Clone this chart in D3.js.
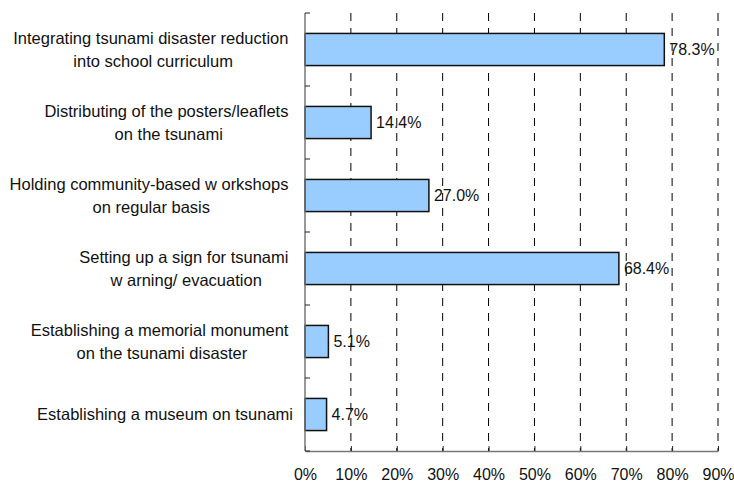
<!DOCTYPE html>
<html>
<head>
<meta charset="utf-8">
<script src="https://cdn.jsdelivr.net/npm/d3@7"></script>
<style>
  html, body { margin: 0; padding: 0; background: #fff; }
  text { font-family: "Liberation Sans", Arial, sans-serif; fill: #111; }
</style>
</head>
<body>
<svg id="chart" width="734" height="484"></svg>
<script>
// ---- data ----
const categoryLines = [
  ["Integrating tsunami disaster reduction", "into school curriculum"],
  ["Distributing of the posters/leaflets", "on the tsunami"],
  ["Holding community-based w orkshops", "on regular basis"],
  ["Setting up a sign for tsunami", "w arning/ evacuation"],
  ["Establishing a memorial monument", "on the tsunami disaster"],
  ["Establishing a museum on tsunami"]
];
const categories = categoryLines.map(l => l.join(" "));
const values = [78.3, 14.4, 27.0, 68.4, 5.1, 4.7];
const xTicks = [0, 10, 20, 30, 40, 50, 60, 70, 80, 90];

// ---- layout ----
const svg = d3.select("#chart");
const plotLeft = 305, plotRight = 718, plotTop = 13, plotBottom = 451;

const x = d3.scaleLinear().domain([0, 90]).range([plotLeft, plotRight]);
const y = d3.scaleBand().domain(categories).range([plotTop, plotBottom])
  .paddingInner(0.56).paddingOuter(0.28);

// gridlines
svg.append("g").selectAll("line").data(xTicks.filter(t => t > 0)).join("line")
  .attr("x1", d => x(d)).attr("x2", d => x(d))
  .attr("y1", plotTop).attr("y2", plotBottom)
  .attr("stroke", "#000").attr("stroke-width", 1)
  .attr("stroke-dasharray", "8,7");

// bars
svg.append("g").selectAll("rect").data(values).join("rect")
  .attr("x", x(0))
  .attr("y", (d, i) => y(categories[i]))
  .attr("width", d => x(d) - x(0))
  .attr("height", y.bandwidth())
  .attr("fill", "#99CCFF")
  .attr("stroke", "#111").attr("stroke-width", 1.5);

// value labels
svg.append("g").selectAll("text").data(values).join("text")
  .attr("x", d => x(d) + 5)
  .attr("y", (d, i) => y(categories[i]) + y.bandwidth() / 2)
  .attr("dy", "0.35em")
  .style("font-size", "16px")
  .text(d => d.toFixed(1) + "%");

// x axis
const xAxis = d3.axisBottom(x).tickValues(xTicks).tickFormat(d => d + "%")
  .tickSizeInner(-5).tickSizeOuter(0).tickPadding(18);
const gx = svg.append("g").attr("transform", `translate(0,${plotBottom})`).call(xAxis);
gx.select(".domain").attr("stroke", "#777").attr("stroke-width", 1.5);
gx.selectAll(".tick line").attr("stroke", "#222");
gx.selectAll(".tick text").style("font-size", "16px")
  .style("font-family", '"Liberation Sans", Arial, sans-serif').attr("fill", "#111");

// y axis line and inward ticks at band boundaries
const boundaries = categories.map(c => y(c) - y.step() * y.paddingInner() / 2).concat([plotBottom]);
svg.append("line").attr("x1", plotLeft).attr("x2", plotLeft).attr("y1", plotTop).attr("y2", plotBottom)
  .attr("stroke", "#777").attr("stroke-width", 1.5);
svg.append("g").selectAll("line").data(boundaries).join("line")
  .attr("x1", plotLeft).attr("x2", plotLeft + 5)
  .attr("y1", d => d).attr("y2", d => d)
  .attr("stroke", "#222").attr("stroke-width", 1);

// category labels (wrapped, lines centered, block right-aligned)
const labelRight = 293;
const lineH = 23;
const gl = svg.append("g");
categoryLines.forEach((lines, i) => {
  const cy = y(categories[i]) + y.bandwidth() / 2;
  const texts = lines.map((ln, j) => {
    const t = gl.append("text")
      .attr("xml:space", "preserve")
      .style("white-space", "pre")
      .style("font-size", "16.5px")
      .attr("text-anchor", "middle")
      .attr("dy", "0.35em")
      .text(j < lines.length - 1 ? ln + " " : ln);
    return t;
  });
  const widths = texts.map(t => t.node().getComputedTextLength());
  const blockW = d3.max(widths);
  const cx = labelRight - blockW / 2;
  texts.forEach((t, j) => {
    t.attr("x", cx).attr("y", cy + (j - (lines.length - 1) / 2) * lineH);
  });
});
</script>
</body>
</html>
